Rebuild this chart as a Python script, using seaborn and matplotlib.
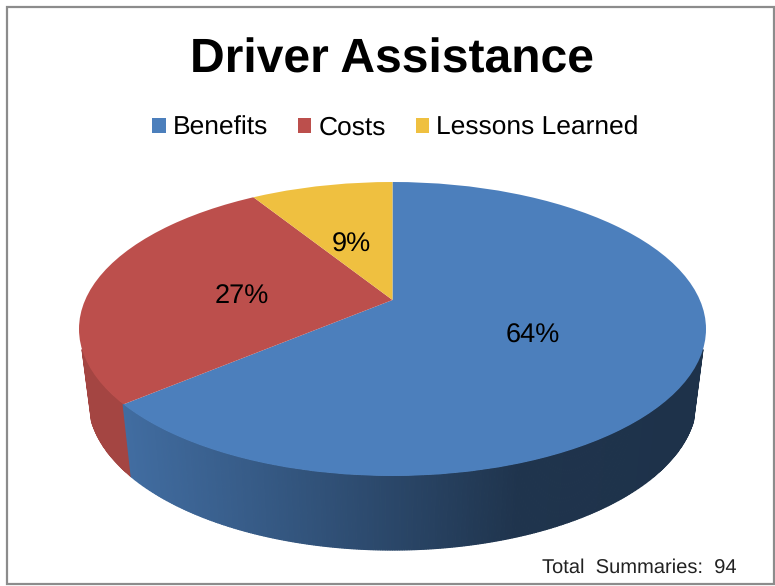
import numpy as np
import matplotlib
matplotlib.use("Agg")
import matplotlib.pyplot as plt
from matplotlib.patches import Ellipse, Patch, Rectangle
from matplotlib.colors import to_rgb
import seaborn as sns

categories = ["Benefits", "Costs", "Lessons Learned"]
shares = [64, 27, 9]
chart_title = "Driver Assistance"
footer = "Total  Summaries:  94"
face_colors = ["#4C7FBC", "#BC4F4C", "#EFC040"]

sns.set_theme(style="white")
plt.rcParams["font.family"] = ["Liberation Sans", "DejaVu Sans"]
plt.rcParams["text.hinting"] = "no_hinting"
palette = sns.color_palette(face_colors)

W, H = 775, 586
fig = plt.figure(figsize=(W / 100, H / 100), dpi=100, facecolor="white")
ax = fig.add_axes([0, 0, 1, 1])

# top face: ellipse in pixels, wedge apex offset by the perspective
cx, cy, rx, ry = 392.5, 329.0, 313.5, 147.0
apex_y = 300.0
bx, by, brx, bry = 392.5, 400.0, 304.0, 150.0
ux = lambda px: (px - cx) / rx
uy = lambda py: (cy - py) / ry
y0 = uy(apex_y)

wedges, _ = ax.pie(shares, colors=palette, startangle=90, counterclock=False,
                   center=(0, y0), radius=4, wedgeprops=dict(linewidth=0))
ax.set_aspect("auto")
ax.set_xlim(ux(0), ux(W))
ax.set_ylim(uy(H), uy(0))
ax.axis("off")
clip = Ellipse((0, 0), 2, 2, transform=ax.transData)
for w in wedges:
    w.set_clip_on(True)
    w.set_clip_path(clip)
    w.set_zorder(3)

# side wall: strips coloured by the wedge they hang from
edges = np.cumsum(shares) / np.sum(shares)
blue_x = [120, 260, 400, 520, 720]
blue_shade = [0.86, 0.71, 0.55, 0.41, 0.39]
t = np.linspace(np.radians(188), np.radians(352), 361)
for a, b in zip(t[:-1], t[1:]):
    m = (a + b) / 2
    frac = ((np.arctan2(np.cos(m), np.sin(m) - y0)) / (2 * np.pi)) % 1
    idx = int(np.searchsorted(edges, frac))
    px_mid = cx + rx * np.cos(m)
    if idx == 0:
        col = np.array(to_rgb(palette[0])) * np.interp(px_mid, blue_x, blue_shade)
    else:
        col = np.array(to_rgb(palette[idx])) * 0.87
    xs = [np.cos(a), np.cos(b), ux(bx + brx * np.cos(b)), ux(bx + brx * np.cos(a))]
    ys = [np.sin(a), np.sin(b), uy(by - bry * np.sin(b)), uy(by - bry * np.sin(a))]
    ax.fill(xs, ys, color=col, lw=0.9, zorder=2)

# value labels
label_px = [(533, 336), (242, 297), (351, 245)]
for v, (lx, ly) in zip(shares, label_px):
    fig.text(lx / W, 1 - ly / H, f"{v}%", fontsize=19.5, color="black",
             ha="center", va="center", zorder=5)

fig.text(391.5 / W, 1 - 73 / H, chart_title, fontsize=34.6, fontweight="bold",
         color="black", ha="center", va="baseline")

handles = [Patch(facecolor=c, edgecolor="none") for c in palette]
fig.legend(handles, categories, ncol=3, loc="center", bbox_to_anchor=(395.5 / W, 1 - 128 / H),
           frameon=False, fontsize=19, handlelength=0.5, handleheight=0.5,
           handletextpad=0.27, columnspacing=1.14, borderpad=0, labelcolor="black")

fig.text(737 / W, 1 - 568 / H, footer, fontsize=14.5, color="#222222", ha="right", va="center")

fig.add_artist(Rectangle((7 / W, 1 - 584 / H), 767 / W, 577 / H, transform=fig.transFigure,
                         fill=False, edgecolor="#8C8C8C", linewidth=1.6))

fig.savefig("out.png", dpi=100, facecolor="white")
